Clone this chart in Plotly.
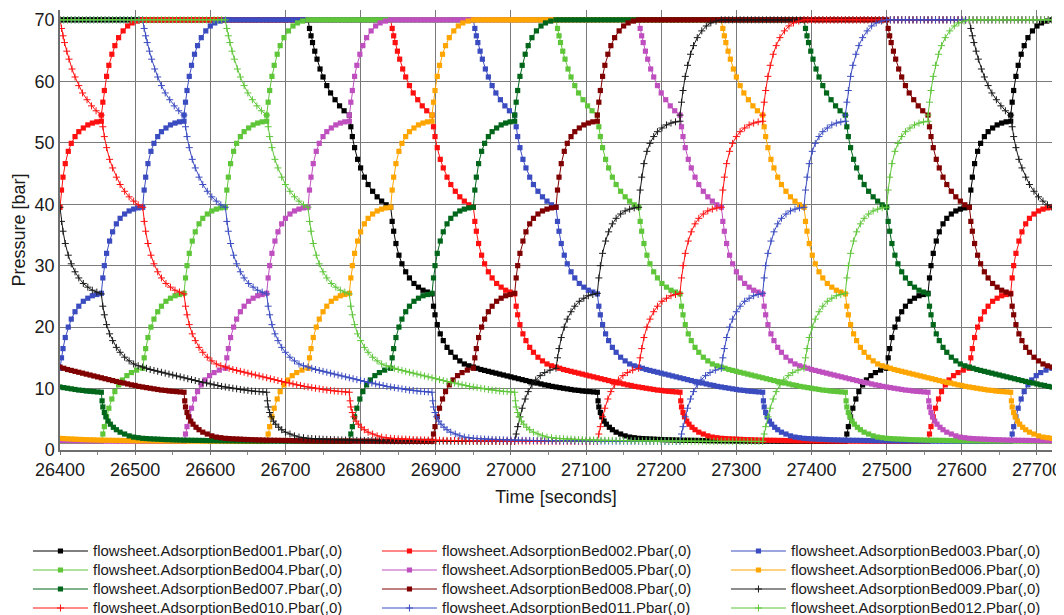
import plotly.graph_objects as go

# ---------------- data ----------------
BED_NAMES = [
    "flowsheet.AdsorptionBed001.Pbar(,0)", "flowsheet.AdsorptionBed002.Pbar(,0)",
    "flowsheet.AdsorptionBed003.Pbar(,0)", "flowsheet.AdsorptionBed004.Pbar(,0)",
    "flowsheet.AdsorptionBed005.Pbar(,0)", "flowsheet.AdsorptionBed006.Pbar(,0)",
    "flowsheet.AdsorptionBed007.Pbar(,0)", "flowsheet.AdsorptionBed008.Pbar(,0)",
    "flowsheet.AdsorptionBed009.Pbar(,0)", "flowsheet.AdsorptionBed010.Pbar(,0)",
    "flowsheet.AdsorptionBed011.Pbar(,0)", "flowsheet.AdsorptionBed012.Pbar(,0)",
]
# time (s) at which each bed starts its depressurisation step (cycle phase 0)
BED_DEPRESS_START_S = [26730, 26840, 26950, 27060, 27170, 27280,
                       27390, 27500, 27610, 26400, 26510, 26620]
CYCLE_S = 1320
T_START, T_END = 26400, 27720

# Pressure profile of one bed over one cycle (phase seconds, bar)
EQ1_DOWN_T = [0, 2, 4, 6, 9, 12, 16, 20, 25, 30, 36, 42, 48]
EQ1_DOWN_P = [70.0, 68.6, 67.4, 66.3, 64.9, 63.6, 62.0, 60.7, 59.3, 58.1, 57.0, 56.0, 55.2]
EQ2_DOWN_T = [55, 57, 59, 62, 66, 70, 75, 80, 86, 92, 98, 104]
EQ2_DOWN_P = [54.5, 52.6, 51.0, 49.2, 47.3, 45.9, 44.4, 43.2, 42.1, 41.2, 40.5, 39.9]
EQ3_DOWN_T = [110, 112, 114, 117, 121, 125, 130, 135, 141, 147, 153, 159]
EQ3_DOWN_P = [39.5, 37.2, 35.6, 33.6, 31.7, 30.3, 29.0, 28.0, 27.1, 26.5, 26.0, 25.7]
EQ4_DOWN_T = [165, 167, 169, 172, 176, 180, 185, 190, 196, 202, 208, 214]
EQ4_DOWN_P = [25.4, 23.4, 22.0, 20.4, 18.9, 17.8, 16.7, 15.9, 15.1, 14.5, 14.0, 13.7]
PURGE_OUT_T = [220, 225, 230, 235, 240, 245, 250, 255, 260, 265, 270, 275, 280, 285, 290,
               295, 300, 305, 310, 315, 320, 325, 330, 335, 340, 345, 350, 355, 360, 365,
               370, 375, 380]
PURGE_OUT_P = [13.5, 13.3, 13.1, 12.95, 12.8, 12.65, 12.5, 12.35, 12.2, 12.05, 11.9, 11.75,
               11.6, 11.45, 11.3, 11.15, 11.0, 10.9, 10.75, 10.6, 10.5, 10.35, 10.25, 10.15,
               10.05, 9.95, 9.85, 9.75, 9.7, 9.6, 9.55, 9.5, 9.45]
BLOWDOWN_T = [385, 386, 387, 389, 391, 394, 397, 401, 405, 410, 416, 422, 428, 434]
BLOWDOWN_P = [9.4, 8.0, 7.0, 6.1, 5.4, 4.7, 4.2, 3.7, 3.3, 2.9, 2.6, 2.3, 2.1, 2.0]
PURGE_IN_T = [440, 445, 450, 455, 460, 465, 470, 475, 480, 485, 490, 495, 500, 505, 510,
              515, 520, 525, 530, 535, 540, 545, 550, 555, 560, 565, 570, 575, 580, 585,
              590, 595, 600, 605, 610, 615, 620, 625, 630, 635, 640, 645, 650, 655, 660,
              665, 670, 675, 680, 685, 690, 695, 700, 705, 710]
PURGE_IN_P = [1.9, 1.86, 1.82, 1.79, 1.76, 1.73, 1.7, 1.68, 1.66, 1.64, 1.62, 1.6, 1.59,
              1.58, 1.57, 1.56, 1.55, 1.54, 1.53, 1.52, 1.51, 1.5, 1.5, 1.49, 1.49, 1.48,
              1.48, 1.47, 1.47, 1.46, 1.46, 1.45, 1.45, 1.45, 1.44, 1.44, 1.44, 1.43, 1.43,
              1.43, 1.42, 1.42, 1.42, 1.42, 1.41, 1.41, 1.41, 1.41, 1.4, 1.4, 1.4, 1.4, 1.4,
              1.4, 1.4]
EQ4_UP_T = [715, 717, 719, 722, 725, 729, 733, 738, 743, 749, 755, 762]
EQ4_UP_P = [1.4, 2.6, 3.8, 5.4, 6.8, 8.3, 9.5, 10.6, 11.4, 12.1, 12.6, 13.0]
EQ3_UP_T = [770, 772, 774, 777, 781, 785, 790, 795, 801, 807, 813, 819]
EQ3_UP_P = [13.3, 15.0, 16.5, 18.3, 20.0, 21.3, 22.5, 23.4, 24.2, 24.7, 25.1, 25.3]
EQ2_UP_T = [825, 827, 829, 832, 836, 840, 845, 850, 856, 862, 868, 874]
EQ2_UP_P = [25.5, 28.0, 30.0, 32.0, 34.0, 35.5, 36.8, 37.7, 38.4, 38.9, 39.2, 39.4]
EQ1_UP_T = [880, 882, 884, 887, 891, 895, 900, 905, 911, 917, 923, 929, 935]
EQ1_UP_P = [39.5, 42.3, 44.4, 46.6, 48.6, 49.9, 51.0, 51.8, 52.4, 52.9, 53.2, 53.4, 53.5]
REPRESS_T = [935, 937, 939, 942, 945, 949, 953, 958, 964, 970, 976, 983]
REPRESS_P = [54.5, 56.6, 58.5, 60.8, 62.6, 64.4, 65.8, 67.1, 68.2, 69.0, 69.5, 69.8]
ADSORB_T = [990, 995, 1000, 1005, 1010, 1015, 1020, 1025, 1030, 1035, 1040, 1045, 1050,
            1055, 1060, 1065, 1070, 1075, 1080, 1085, 1090, 1095, 1100, 1105, 1110, 1115,
            1120, 1125, 1130, 1135, 1140, 1145, 1150, 1155, 1160, 1165, 1170, 1175, 1180,
            1185, 1190, 1195, 1200, 1205, 1210, 1215, 1220, 1225, 1230, 1235, 1240, 1245,
            1250, 1255, 1260, 1265, 1270, 1275, 1280, 1285, 1290, 1295, 1300, 1305, 1310,
            1315]
ADSORB_P = [70.0, 70.0, 70.0, 70.0, 70.0, 70.0, 70.0, 70.0, 70.0, 70.0, 70.0, 70.0, 70.0,
            70.0, 70.0, 70.0, 70.0, 70.0, 70.0, 70.0, 70.0, 70.0, 70.0, 70.0, 70.0, 70.0,
            70.0, 70.0, 70.0, 70.0, 70.0, 70.0, 70.0, 70.0, 70.0, 70.0, 70.0, 70.0, 70.0,
            70.0, 70.0, 70.0, 70.0, 70.0, 70.0, 70.0, 70.0, 70.0, 70.0, 70.0, 70.0, 70.0,
            70.0, 70.0, 70.0, 70.0, 70.0, 70.0, 70.0, 70.0, 70.0, 70.0, 70.0, 70.0, 70.0,
            70.0]

PHASE_S = (EQ1_DOWN_T + EQ2_DOWN_T + EQ3_DOWN_T + EQ4_DOWN_T + PURGE_OUT_T + BLOWDOWN_T
           + PURGE_IN_T + EQ4_UP_T + EQ3_UP_T + EQ2_UP_T + EQ1_UP_T + REPRESS_T + ADSORB_T)
PRESSURE_BAR = (EQ1_DOWN_P + EQ2_DOWN_P + EQ3_DOWN_P + EQ4_DOWN_P + PURGE_OUT_P + BLOWDOWN_P
                + PURGE_IN_P + EQ4_UP_P + EQ3_UP_P + EQ2_UP_P + EQ1_UP_P + REPRESS_P + ADSORB_P)

X_TICKS = [26400, 26500, 26600, 26700, 26800, 26900, 27000, 27100,
           27200, 27300, 27400, 27500, 27600, 27700]
Y_TICKS = [0, 10, 20, 30, 40, 50, 60, 70]

# ---------------- styles ----------------
COLORS = ["#000000", "#ff1010", "#3b4cc0", "#5fc63a", "#bf4fbf", "#ffa500",
          "#00661a", "#800000", "#1a1a1a", "#ff1010", "#3b4cc0", "#5fc63a"]
SYMBOLS = ["square"] * 8 + ["cross-thin"] * 4

fig = go.Figure()
for k, name in enumerate(BED_NAMES):
    xs, ys = [], []
    for copy in (-1, 0, 1):
        base = BED_DEPRESS_START_S[k] + copy * CYCLE_S
        for t, p in zip(PHASE_S, PRESSURE_BAR):
            T = base + t
            if T_START <= T <= T_END:
                xs.append(T)
                ys.append(p)
    order = sorted(range(len(xs)), key=lambda i: xs[i])
    xs = [xs[i] for i in order]
    ys = [ys[i] for i in order]
    sq = SYMBOLS[k] == "square"
    fig.add_trace(go.Scatter(
        x=xs, y=ys, mode="lines+markers",
        name='<span style="font-size:15px">' + name + '</span>',
        line=dict(color=COLORS[k], width=1),
        marker=dict(symbol=SYMBOLS[k], size=5.2 if sq else 5, color=COLORS[k],
                    line=dict(width=0 if sq else 1, color=COLORS[k])),
    ))

# the page adds an 8px body margin, so the figure is 8px narrower/shorter
fig.update_layout(
    width=1056, height=607,
    margin=dict(l=52, r=12, t=2, b=165, autoexpand=False),
    paper_bgcolor="white", plot_bgcolor="white",
    font=dict(family="Liberation Sans, Arial, sans-serif", color="#1a1a1a", size=18),
    showlegend=True,
    legend=dict(orientation="h", x=-0.0323, y=-0.1966, xanchor="left", yanchor="top",
                font=dict(size=12, color="#1a1a1a"), itemwidth=55,
                entrywidth=279, entrywidthmode="pixels", bgcolor="rgba(0,0,0,0)",
                tracegroupgap=0),
    xaxis=dict(range=[T_START, T_END], tickvals=X_TICKS, ticktext=[str(v) for v in X_TICKS],
               showgrid=True, gridcolor="#7a7a7a", gridwidth=1, zeroline=False,
               showline=True, linecolor="#6e6e6e", linewidth=1.5,
               ticks="outside", ticklen=3, tickcolor="#6e6e6e",
               minor=dict(dtick=50, tick0=26400, ticks="outside", ticklen=3, tickcolor="#8a8a8a",
                          showgrid=False),
               tickfont=dict(size=18),
               title=dict(text="Time [seconds]", font=dict(size=18), standoff=11)),
    yaxis=dict(range=[0, 71.6], tickvals=Y_TICKS, showgrid=True, gridcolor="#7a7a7a",
               gridwidth=1, zeroline=False, showline=True, linecolor="#6e6e6e", linewidth=1.5,
               ticks="", tickfont=dict(size=18),
               title=dict(text="Pressure [bar]", font=dict(size=18), standoff=4)),
)

fig.write_html("out.html")
